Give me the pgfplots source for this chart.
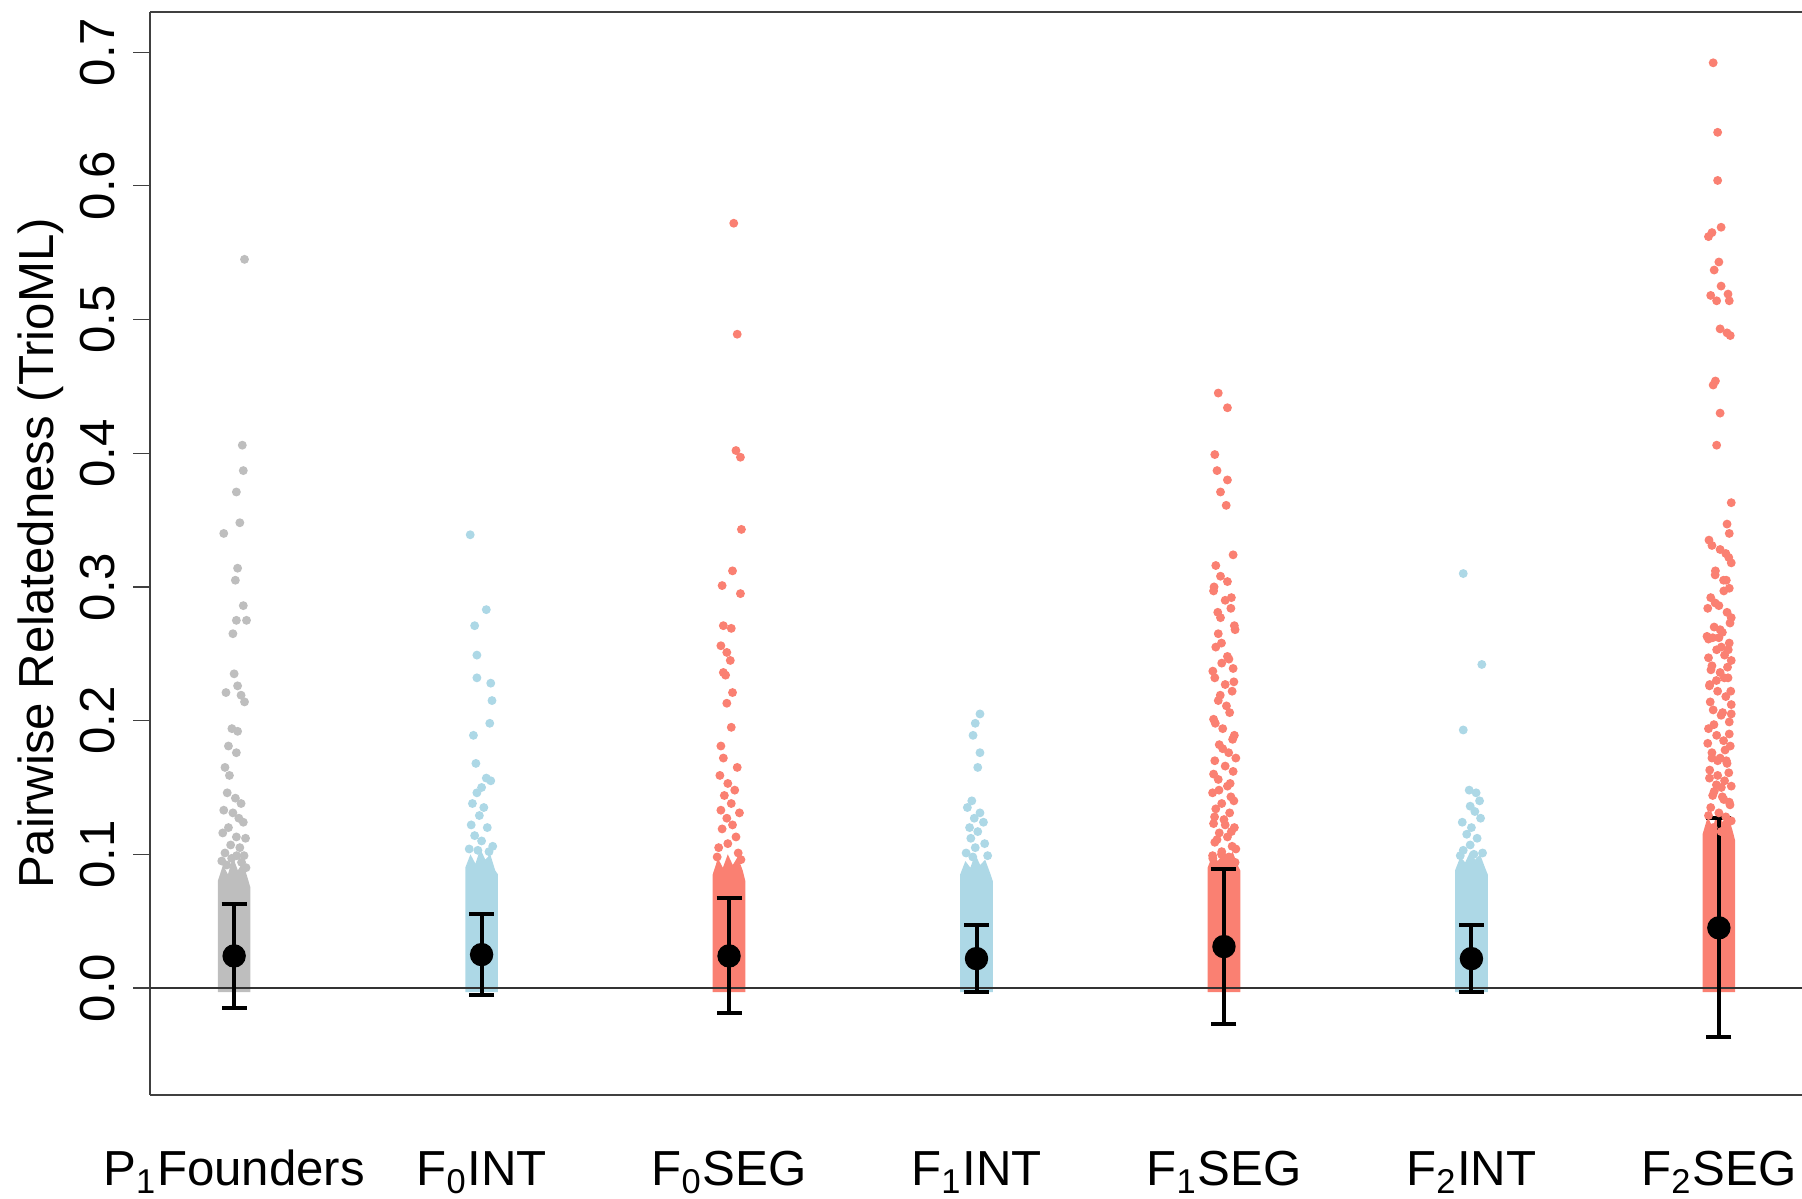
\documentclass[border=0pt]{standalone}
\usepackage{fontspec}
\setmainfont{Liberation Sans}
\usepackage{pgfplots}
\usepackage{pgfplotstable}
\pgfplotsset{compat=1.18}

\definecolor{rgray}{RGB}{190,190,190}
\definecolor{rlightblue}{RGB}{173,216,230}
\definecolor{rsalmon}{RGB}{250,128,114}

% Pairs above the dense band (x = group + jitter, y = relatedness)
\pgfplotstableread{
x y
1.042 0.545
1.033 0.406
1.037 0.387
1.009 0.371
1.023 0.348
0.958 0.340
1.014 0.314
1.005 0.305
1.037 0.286
1.009 0.275
1.050 0.275
0.995 0.265
1.000 0.235
1.014 0.226
0.967 0.221
1.028 0.219
1.042 0.214
0.991 0.194
1.014 0.192
0.977 0.181
1.009 0.176
0.963 0.165
0.981 0.159
0.972 0.146
1.005 0.142
1.028 0.138
0.958 0.133
0.995 0.131
1.019 0.127
1.037 0.124
0.977 0.120
0.954 0.116
1.009 0.113
1.046 0.112
0.986 0.107
1.023 0.105
0.963 0.101
0.950 0.095
0.990 0.097
1.030 0.094
1.048 0.090
0.970 0.092
1.010 0.099
1.040 0.099
}\founders

\pgfplotstableread{
x y
1.954 0.339
2.019 0.283
1.972 0.271
1.981 0.249
1.981 0.232
2.037 0.228
2.042 0.215
2.033 0.198
1.967 0.189
1.977 0.168
2.019 0.157
2.037 0.155
2.000 0.150
1.981 0.146
1.963 0.138
2.009 0.135
1.991 0.129
1.958 0.122
2.023 0.120
1.972 0.114
2.000 0.110
2.045 0.106
1.950 0.104
2.030 0.102
1.985 0.103
}\fzeroint

\pgfplotstableread{
x y
3.019 0.572
3.033 0.489
3.028 0.402
3.046 0.397
3.050 0.343
3.014 0.312
2.972 0.301
3.046 0.295
2.977 0.271
3.009 0.269
2.967 0.256
2.991 0.251
3.005 0.245
2.977 0.236
2.986 0.234
3.014 0.221
2.991 0.213
3.009 0.195
2.967 0.181
2.977 0.172
3.033 0.165
2.963 0.159
2.995 0.153
3.023 0.148
2.981 0.144
3.009 0.138
2.967 0.133
3.042 0.131
2.991 0.127
3.014 0.122
2.972 0.119
3.028 0.113
2.995 0.108
2.958 0.105
3.037 0.101
2.952 0.098
3.048 0.096
}\fzeroseg

\pgfplotstableread{
x y
4.014 0.205
3.995 0.198
3.986 0.189
4.014 0.176
4.005 0.165
3.981 0.140
3.963 0.135
4.014 0.131
3.991 0.127
4.028 0.124
3.972 0.120
4.005 0.117
3.977 0.112
4.033 0.108
3.995 0.105
3.958 0.101
4.045 0.099
3.985 0.098
}\foneint

\pgfplotstableread{
x y
4.977 0.445
5.014 0.434
4.963 0.399
4.972 0.387
5.014 0.380
4.986 0.371
5.009 0.361
5.037 0.324
4.967 0.316
4.986 0.308
5.014 0.304
4.958 0.297
5.005 0.290
5.028 0.284
4.986 0.277
5.042 0.271
4.977 0.265
4.967 0.255
5.014 0.248
4.991 0.243
5.037 0.239
4.963 0.232
5.005 0.227
5.033 0.222
4.977 0.215
5.023 0.206
4.958 0.201
4.995 0.194
5.042 0.189
4.981 0.182
5.019 0.176
4.963 0.170
5.005 0.166
5.037 0.162
4.977 0.156
5.014 0.151
4.954 0.146
5.028 0.143
4.991 0.138
4.967 0.134
5.023 0.131
5.000 0.126
4.958 0.123
5.042 0.120
4.981 0.116
5.014 0.113
4.963 0.109
5.033 0.106
4.991 0.102
4.954 0.099
5.019 0.096
4.960 0.300
5.030 0.292
4.975 0.281
5.045 0.268
4.990 0.258
5.020 0.246
4.955 0.237
5.040 0.229
4.985 0.219
5.010 0.211
4.965 0.198
5.035 0.186
4.995 0.179
5.048 0.172
4.958 0.160
5.025 0.153
4.980 0.148
5.040 0.140
4.962 0.128
5.005 0.122
5.030 0.117
4.972 0.111
5.048 0.104
4.990 0.100
4.955 0.097
5.020 0.098
5.045 0.094
}\foneseg

\pgfplotstableread{
x y
5.967 0.310
6.042 0.242
5.967 0.193
5.991 0.148
6.019 0.146
6.033 0.140
5.995 0.136
6.014 0.132
6.037 0.127
5.963 0.124
6.000 0.120
5.981 0.115
6.023 0.112
5.995 0.107
5.967 0.103
6.045 0.101
5.955 0.099
6.010 0.100
}\ftwoint

\pgfplotstableread{
x y
6.977 0.692
6.995 0.640
6.995 0.604
7.009 0.569
6.972 0.565
6.958 0.562
7.000 0.543
6.981 0.537
7.009 0.525
7.037 0.519
6.967 0.518
6.991 0.514
7.042 0.514
7.005 0.493
7.033 0.490
7.046 0.488
6.986 0.454
6.977 0.451
7.005 0.430
6.991 0.406
7.050 0.363
7.033 0.347
7.042 0.340
6.972 0.331
7.005 0.328
7.028 0.325
7.050 0.318
6.986 0.312
7.019 0.305
7.042 0.299
6.967 0.292
7.000 0.286
7.033 0.281
7.050 0.277
6.981 0.270
7.014 0.266
6.958 0.261
7.042 0.258
6.991 0.253
7.023 0.249
7.050 0.245
6.972 0.241
7.005 0.236
7.037 0.232
6.963 0.227
6.995 0.222
7.028 0.218
7.050 0.212
6.977 0.208
7.009 0.204
7.042 0.199
6.958 0.194
6.991 0.189
7.019 0.185
7.046 0.181
6.972 0.176
7.005 0.172
7.033 0.168
6.963 0.163
6.995 0.159
7.023 0.155
7.050 0.151
6.981 0.147
7.014 0.143
7.042 0.139
6.967 0.135
7.000 0.131
7.028 0.128
7.050 0.125
6.977 0.120
7.009 0.117
7.037 0.113
6.960 0.335
7.040 0.322
6.985 0.309
7.020 0.297
6.955 0.284
7.045 0.273
6.975 0.262
7.010 0.255
6.958 0.247
7.035 0.240
6.990 0.230
7.048 0.222
6.965 0.214
7.015 0.206
6.980 0.197
7.042 0.190
6.955 0.183
7.025 0.178
6.995 0.170
7.040 0.161
6.962 0.157
7.010 0.150
6.975 0.144
7.045 0.137
6.958 0.129
7.020 0.141
6.990 0.152
7.030 0.170
6.968 0.238
7.005 0.268
6.985 0.288
7.030 0.305
6.962 0.226
7.050 0.205
6.972 0.172
7.000 0.262
7.038 0.253
6.952 0.263
7.022 0.232
}\ftwoseg

% Group means with +/- one standard deviation
\pgfplotstableread{
x y e
1 0.024 0.039
2 0.025 0.030
3 0.024 0.043
4 0.022 0.025
5 0.031 0.058
6 0.022 0.025
7 0.045 0.082
}\means

\begin{document}
\begin{tikzpicture}
\path[use as bounding box] (0,0) rectangle (180.2mm,119.9mm);
\begin{axis}[
  at={(15mm,10.4mm)}, anchor=south west,
  scale only axis,
  width=165.2mm, height=108.3mm,
  xmin=0.660, xmax=7.336,
  ymin=-0.080, ymax=0.730,
  axis x line=box, axis y line=left,
  axis line style={-, line width=0.12mm, black!75},
  clip=true,
  font=\fontsize{14}{16.8}\selectfont,
  xtick={1,2,3,4,5,6,7},
  xticklabels={P\textsubscript{1}Founders, F\textsubscript{0}INT, F\textsubscript{0}SEG,
               F\textsubscript{1}INT, F\textsubscript{1}SEG, F\textsubscript{2}INT, F\textsubscript{2}SEG},
  major x tick style={draw=none},
  xticklabel style={anchor=base, inner sep=0pt, yshift=-7.4mm},
  ytick={0,0.1,0.2,0.3,0.4,0.5,0.6,0.7},
  tick align=outside,
  major tick length=1.7mm,
  major y tick style={line width=0.12mm, black!75},
  yticklabel shift=1.8mm,
  yticklabel style={rotate=90, anchor=base, inner sep=0pt,
    /pgf/number format/.cd, fixed, fixed zerofill, precision=1},
  /pgf/number format/assume math mode=true,
  ylabel={Pairwise Relatedness (TrioML)},
  every axis y label/.style={at={(axis description cs:-0.0587,0.5)}, rotate=90, anchor=base, inner sep=0pt},
  dots/.style={only marks, mark=*, mark size=0.37mm, color=#1, mark options={draw=none, fill=#1}},
]
% dense lower bands of each strip
\addplot[fill=rgray, draw=none] coordinates {(0.934,-0.003) (0.934,0.080) (0.955,0.092) (0.975,0.085) (0.995,0.098) (1.015,0.088) (1.035,0.094) (1.055,0.082) (1.066,0.075) (1.066,-0.003)} --cycle;
\addplot[fill=rlightblue, draw=none] coordinates {(1.934,-0.003) (1.934,0.090) (1.955,0.100) (1.975,0.093) (1.995,0.104) (2.015,0.096) (2.035,0.100) (2.055,0.088) (2.066,0.085) (2.066,-0.003)} --cycle;
\addplot[fill=rsalmon, draw=none] coordinates {(2.934,-0.003) (2.934,0.085) (2.955,0.097) (2.975,0.090) (2.995,0.100) (3.015,0.092) (3.035,0.098) (3.055,0.088) (3.066,0.080) (3.066,-0.003)} --cycle;
\addplot[fill=rlightblue, draw=none] coordinates {(3.934,-0.003) (3.934,0.085) (3.955,0.095) (3.975,0.090) (3.995,0.100) (4.015,0.092) (4.035,0.096) (4.055,0.086) (4.066,0.080) (4.066,-0.003)} --cycle;
\addplot[fill=rsalmon, draw=none] coordinates {(4.934,-0.003) (4.934,0.090) (4.955,0.100) (4.975,0.095) (4.995,0.100) (5.015,0.096) (5.035,0.102) (5.055,0.092) (5.066,0.088) (5.066,-0.003)} --cycle;
\addplot[fill=rlightblue, draw=none] coordinates {(5.934,-0.003) (5.934,0.088) (5.955,0.098) (5.975,0.094) (5.995,0.102) (6.015,0.096) (6.035,0.100) (6.055,0.090) (6.066,0.085) (6.066,-0.003)} --cycle;
\addplot[fill=rsalmon, draw=none] coordinates {(6.934,-0.003) (6.934,0.115) (6.955,0.128) (6.975,0.120) (6.995,0.132) (7.015,0.124) (7.035,0.130) (7.055,0.118) (7.066,0.110) (7.066,-0.003)} --cycle;
% scattered pairs
\addplot[dots=rgray] table[x=x, y=y] {\founders};
\addplot[dots=rlightblue] table[x=x, y=y] {\fzeroint};
\addplot[dots=rsalmon] table[x=x, y=y] {\fzeroseg};
\addplot[dots=rlightblue] table[x=x, y=y] {\foneint};
\addplot[dots=rsalmon] table[x=x, y=y] {\foneseg};
\addplot[dots=rlightblue] table[x=x, y=y] {\ftwoint};
\addplot[dots=rsalmon] table[x=x, y=y] {\ftwoseg};
% reference line at zero
\addplot[black!80, line width=0.13mm] coordinates {(0.66,0) (7.336,0)};
% means and error bars
\addplot[only marks, mark=*, mark size=1.1mm, black,
  error bars/.cd, y dir=both, y explicit,
  error bar style={line width=0.4mm, black},
  error mark options={rotate=90, mark size=1.25mm, line width=0.4mm, black}]
  table[x=x, y=y, y error=e] {\means};
\end{axis}
\end{tikzpicture}
\end{document}
